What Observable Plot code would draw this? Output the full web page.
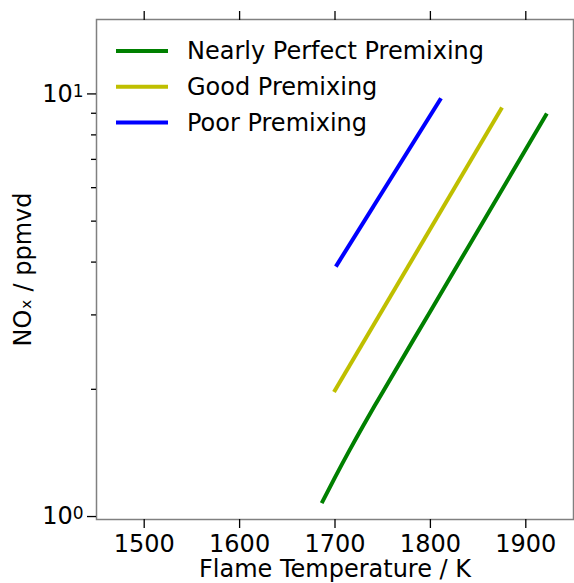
<!DOCTYPE html>
<html><head><meta charset="utf-8">
<script src="https://cdn.jsdelivr.net/npm/d3@7"></script>
<script src="https://cdn.jsdelivr.net/npm/@observablehq/plot@0.6"></script>
<style>body{margin:0;background:#fff} #chart{width:574px;height:583px}</style>
</head><body><div id="chart"></div>
<script>
const seriesNames = ["Nearly Perfect Premixing", "Good Premixing", "Poor Premixing"];
const seriesColors = ["#008000", "#bfbf00", "#0000ff"];

const perfectT   = [1687, 1700, 1715, 1730, 1745, 1800, 1840, 1880, 1921];
const perfectNOx = [1.086, 1.238, 1.432, 1.647, 1.885, 3.062, 4.357, 6.199, 8.90];
const goodT      = [1700, 1874];
const goodNOx    = [1.99, 9.2];
const poorT      = [1702, 1810];
const poorNOx    = [3.94, 9.68];

const xTicks = [1500, 1600, 1700, 1800, 1900];
const yMajorTicks = [1, 10];
const yMajorBase = ["10", "10"];
const yMajorExp = ["0", "1"];
const yMinorTicks = [2, 3, 4, 5, 6, 7, 8, 9];
const xLabel = "Flame Temperature / K";
const yLabel = "NO\u2093 / ppmvd";

const seriesData = [[perfectT, perfectNOx], [goodT, goodNOx], [poorT, poorNOx]];
const rows = [];
seriesData.forEach(([ts, vs], i) => ts.forEach((t, j) => rows.push({series: seriesNames[i], T: t, nox: vs[j]})));

const font = "DejaVu Sans, sans-serif";
const chart = Plot.plot({
  width: 574, height: 583,
  marginLeft: 96, marginRight: 1, marginTop: 19, marginBottom: 64,
  style: {fontFamily: font, fontSize: "24px", background: "white", color: "black"},
  x: {domain: [1450, 1950]},
  y: {type: "log", domain: [0.984, 15]},
  color: {domain: seriesNames, range: seriesColors},
  marks: [
    Plot.line(rows, {x: "T", y: "nox", z: "series", stroke: "series", strokeWidth: 4, strokeLinecap: "square", curve: "monotone-x"}),
    Plot.frame({stroke: "#808080", strokeWidth: 1.5}),
    Plot.axisX({anchor: "bottom", ticks: xTicks, tickSize: 9, tickPadding: 6, strokeWidth: 1.3, label: null, tickFormat: d => String(d)}),
    Plot.axisX({anchor: "top", ticks: xTicks, tickSize: 9, strokeWidth: 1.3, label: null, tickFormat: () => ""}),
    Plot.axisY({anchor: "left", ticks: yMajorTicks, tickSize: 9, tickPadding: 4, strokeWidth: 1.3, label: null,
      tickFormat: d => "@" + yMajorTicks.indexOf(d)}),
    Plot.axisY({anchor: "left", ticks: yMinorTicks, tickSize: 5, strokeWidth: 1.3, label: null, tickFormat: () => ""}),
    Plot.text([xLabel], {frameAnchor: "bottom", dy: 50, lineAnchor: "middle", textAnchor: "middle", fontSize: 24, fill: "black"}),
    Plot.text([yLabel], {frameAnchor: "left", dx: -73, rotate: -90, lineAnchor: "middle", textAnchor: "middle", fontSize: 24, fill: "black"})
  ]
});
document.getElementById("chart").appendChild(chart);

const svg = d3.select(chart);
// turn y tick labels into base + superscript exponent
svg.selectAll("text").each(function() {
  const t = this.textContent;
  if (/^@\d$/.test(t)) {
    const i = +t.slice(1);
    const sel = d3.select(this);
    sel.text("");
    sel.append("tspan").text(yMajorBase[i]);
    sel.append("tspan").attr("font-size", 17).attr("dy", "-0.30em").text(yMajorExp[i]);
  }
});

// legend (inside upper-left of the frame)
const ml = 96, mt = 19;
const leg = svg.append("g").attr("font-family", font).attr("font-size", 24).attr("text-anchor", "start");
seriesNames.forEach((name, i) => {
  const y = mt + 32 + i * 35.7;
  leg.append("line").attr("x1", ml + 20).attr("x2", ml + 72).attr("y1", y).attr("y2", y)
    .attr("stroke", seriesColors[i]).attr("stroke-width", 4);
  leg.append("text").attr("x", ml + 91).attr("y", y).attr("dy", "0.35em").attr("text-anchor", "start")
    .attr("fill", "black").text(name);
});
</script></body></html>
